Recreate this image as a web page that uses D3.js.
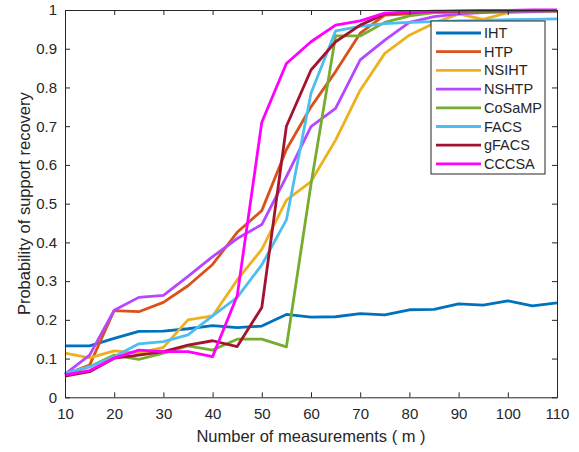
<!DOCTYPE html>
<html>
<head>
<meta charset="utf-8">
<script src="https://cdn.jsdelivr.net/npm/d3@7"></script>
<style>
	body { margin: 0; background: #fff; }
	svg { font-family: "Liberation Sans", Arial, Helvetica, sans-serif; }
</style>
</head>
<body>
<div id="content"></div>
<script>
// measurements m
var mValues = [10, 15, 20, 25, 30, 35, 40, 45, 50, 55, 60, 65, 70, 75, 80, 85, 90, 95, 100, 105, 110];

var xTicks = [10, 20, 30, 40, 50, 60, 70, 80, 90, 100, 110];
var yTicks = [0, 0.1, 0.2, 0.3, 0.4, 0.5, 0.6, 0.7, 0.8, 0.9, 1];

var seriesNames = ["IHT", "HTP", "NSIHT", "NSHTP", "CoSaMP", "FACS", "gFACS", "CCCSA"];
var seriesColors = ["#0072BD", "#D95319", "#EDB120", "#B746FF", "#77AC30", "#4DBEEE", "#A2142F", "#FF00FF"];

var iht    = [0.133, 0.133, 0.152, 0.170, 0.171, 0.177, 0.185, 0.180, 0.184, 0.214, 0.207, 0.208, 0.216, 0.213, 0.226, 0.227, 0.241, 0.238, 0.249, 0.236, 0.244];
var htp    = [0.059, 0.083, 0.224, 0.221, 0.245, 0.288, 0.343, 0.426, 0.482, 0.640, 0.750, 0.841, 0.940, 0.987, 0.990, 0.993, 0.995, 0.996, 0.997, 0.998, 0.998];
var nsiht  = [0.114, 0.102, 0.120, 0.114, 0.129, 0.200, 0.210, 0.303, 0.382, 0.509, 0.557, 0.664, 0.793, 0.888, 0.935, 0.966, 0.990, 0.976, 0.993, 0.995, 0.996];
var nshtp  = [0.060, 0.109, 0.225, 0.258, 0.263, 0.312, 0.363, 0.410, 0.446, 0.570, 0.699, 0.746, 0.871, 0.922, 0.968, 0.983, 0.990, 0.993, 0.995, 0.996, 0.997];
var cosamp = [0.059, 0.079, 0.109, 0.098, 0.114, 0.133, 0.122, 0.150, 0.150, 0.130, 0.550, 0.933, 0.933, 0.968, 0.985, 0.993, 0.995, 0.996, 0.997, 0.998, 0.998];
var facs   = [0.062, 0.079, 0.105, 0.138, 0.144, 0.161, 0.210, 0.258, 0.342, 0.458, 0.785, 0.946, 0.958, 0.965, 0.968, 0.970, 0.972, 0.973, 0.975, 0.976, 0.977];
var gfacs  = [0.055, 0.066, 0.101, 0.109, 0.118, 0.135, 0.146, 0.131, 0.232, 0.700, 0.845, 0.918, 0.961, 0.990, 0.994, 0.996, 0.997, 0.998, 0.998, 0.999, 0.999];
var cccsa  = [0.058, 0.069, 0.101, 0.122, 0.118, 0.118, 0.105, 0.262, 0.710, 0.862, 0.918, 0.961, 0.972, 0.992, 0.995, 0.997, 0.998, 0.999, 0.999, 1.000, 1.000];

var seriesValues = [iht, htp, nsiht, nshtp, cosamp, facs, gfacs, cccsa];

function main() {
	var width = 579, height = 452;
	var margin = { top: 10, right: 22, bottom: 55, left: 65 };
	var axisColor = "#262626";

	var svg = d3.select("#content")
		.append("svg")
		.attr("width", width)
		.attr("height", height);

	var x = d3.scaleLinear().domain([10, 110]).range([margin.left, width - margin.right]);
	var y = d3.scaleLinear().domain([0, 1]).range([height - margin.bottom + 0.3, margin.top]);

	// lines
	var line = d3.line()
		.x(function (d, i) { return x(mValues[i]); })
		.y(function (d) { return y(d); });

	svg.append("g")
		.selectAll("path")
		.data(seriesValues)
		.enter()
		.append("path")
		.attr("fill", "none")
		.attr("stroke", function (d, i) { return seriesColors[i]; })
		.attr("stroke-width", 2.8)
		.attr("stroke-linejoin", "round")
		.attr("d", line);

	// axes, ticks inward on all four sides (box on)
	var bottomAxis = d3.axisBottom(x).tickValues(xTicks).tickSizeInner(-5).tickSizeOuter(0).tickPadding(11);
	var topAxis = d3.axisTop(x).tickValues(xTicks).tickSizeInner(-5).tickSizeOuter(0).tickFormat("");
	var leftAxis = d3.axisLeft(y).tickValues(yTicks).tickSizeInner(-5).tickSizeOuter(0).tickPadding(8).tickFormat(d3.format("~g"));
	var rightAxis = d3.axisRight(y).tickValues(yTicks).tickSizeInner(-5).tickSizeOuter(0).tickFormat("");

	var gb = svg.append("g").attr("transform", "translate(0," + y(0) + ")").call(bottomAxis);
	var gt = svg.append("g").attr("transform", "translate(0," + y(1) + ")").call(topAxis);
	var gl = svg.append("g").attr("transform", "translate(" + x(10) + ",0)").call(leftAxis);
	var gr = svg.append("g").attr("transform", "translate(" + x(110) + ",0)").call(rightAxis);

	[gb, gt, gl, gr].forEach(function (g) {
		g.select(".domain").attr("stroke", axisColor).attr("stroke-width", 1);
		g.selectAll(".tick line").attr("stroke", axisColor);
		g.selectAll(".tick text")
			.attr("fill", axisColor)
			.style("font-size", "15px")
			.style("font-family", "'Liberation Sans', Arial, sans-serif");
	});

	// axis labels
	svg.append("text")
		.attr("x", 311)
		.attr("y", 442)
		.attr("text-anchor", "middle")
		.attr("fill", axisColor)
		.style("font-size", "16.5px")
		.text("Number of measurements ( m )");

	svg.append("text")
		.attr("transform", "translate(30," + (y(0) + y(1)) / 2 + ") rotate(-90)")
		.attr("text-anchor", "middle")
		.attr("fill", axisColor)
		.style("font-size", "16.5px")
		.text("Probability of support recovery");

	// legend
	var legend = svg.append("g").attr("transform", "translate(431,21)");
	legend.append("rect")
		.attr("width", 114)
		.attr("height", 153)
		.attr("fill", "#fff")
		.attr("stroke", axisColor)
		.attr("stroke-width", 1);

	var rows = legend.selectAll(".row")
		.data(seriesNames)
		.enter()
		.append("g")
		.attr("class", "row")
		.attr("transform", function (d, i) { return "translate(0," + (12 + i * 18.7) + ")"; });

	rows.append("line")
		.attr("x1", 5).attr("x2", 50)
		.attr("stroke", function (d, i) { return seriesColors[i]; })
		.attr("stroke-width", 2.8);

	rows.append("text")
		.attr("x", 53)
		.attr("y", 5)
		.attr("fill", axisColor)
		.style("font-size", "14.5px")
		.text(function (d) { return d; });
}

main();
</script>
</body>
</html>
